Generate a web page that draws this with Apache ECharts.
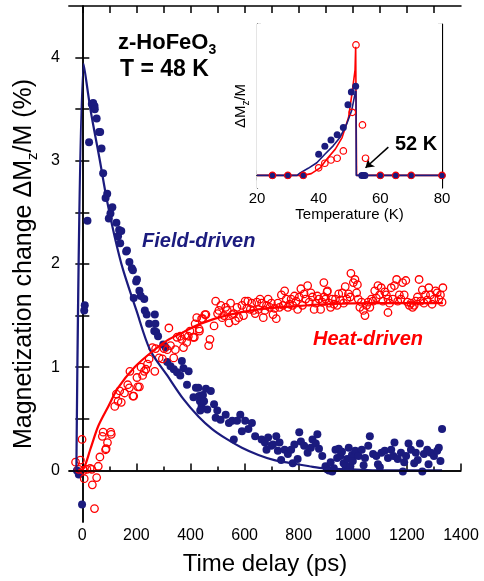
<!DOCTYPE html>
<html>
<head>
<meta charset="utf-8">
<script src="https://cdn.jsdelivr.net/npm/echarts@6/dist/echarts.min.js"></script>
<style>html,body{margin:0;padding:0;background:#fff;}#c{width:484px;height:581px;}</style>
</head>
<body>
<div id="c"></div>
<script>
// ---------- main plot data (time delay in ps, ΔMz/M in %) ----------
const fieldT = [-20,-13,-1,7,9,19,25,35,40,45,46,53,62,66,71,77,86,92,98,104,111,126,132,136,144,140,162,165,174,183,187,199,202,211,216,190,229,231,238,247,268,270,266,273,280,299,308,314,326,338,350,368,374,362,393,387,411,420,429,432,435,441,446,450,457,462,475,487,436,493,499,511,530,542,554,560,572,584,590,602,614,627,639,663,675,681,687,699,705,717,723,729,735,748,760,772,778,784,796,802,808,820,833,845,851,863,869,875,887,899,905,912,918,924,930,936,942,948,954,960,966,972,979,985,991,997,1000,1009,1021,1033,1040,1045,1057,1063,1075,1087,1093,1100,1106,1118,1130,1142,1150,1154,1166,1178,1185,1190,1197,1206,1215,1227,1233,1240,1248,1257,1263,1275,1280,1288,1300,1312,1318,1324,1330];
const fieldV = [0.00,-0.04,-0.33,1.55,1.60,2.42,3.18,3.55,3.56,3.53,3.50,3.41,3.28,3.28,3.12,2.88,2.64,2.68,2.44,2.49,2.55,2.40,2.27,2.33,2.32,2.20,2.12,2.13,2.02,1.96,1.94,1.83,1.85,1.74,1.69,1.67,1.66,1.55,1.51,1.42,1.51,1.42,1.35,1.34,1.30,1.22,1.19,1.05,1.01,0.98,0.95,1.06,0.99,0.92,0.96,0.83,0.71,0.80,0.80,0.72,0.67,0.62,0.73,0.67,0.79,0.59,0.77,0.64,0.58,0.51,0.58,0.49,0.54,0.46,0.48,0.30,0.48,0.54,0.38,0.48,0.40,0.46,0.33,0.30,0.27,0.20,0.32,0.24,0.25,0.33,0.19,0.27,0.10,0.20,0.16,0.20,0.07,0.25,0.11,0.37,0.28,0.24,0.17,0.22,0.30,0.26,0.35,0.21,0.14,0.04,0.01,0.00,0.08,-0.01,0.02,0.20,0.12,0.21,0.14,0.18,0.07,0.05,0.11,0.22,0.04,0.15,0.09,0.19,0.14,0.20,0.05,0.12,0.24,0.33,0.16,0.14,0.06,0.03,0.17,0.19,0.12,0.20,0.14,0.27,0.11,0.17,-0.01,0.08,0.14,0.26,0.20,0.07,0.17,0.10,0.26,-0.01,0.16,0.20,0.06,0.17,0.14,0.19,0.22,0.09,0.40];

const heatT = [-25,-13,-7,-1,5,7,17,29,35,37,45,53,59,65,74,77,86,88,93,105,107,120,126,132,138,144,156,168,174,176,187,190,202,205,211,217,223,229,235,241,247,259,268,271,284,296,302,314,320,326,338,344,350,362,368,374,380,386,392,398,410,414,417,423,432,433,441,445,453,457,467,472,487,493,500,505,512,517,524,530,536,542,548,554,560,566,572,578,590,596,602,608,612,621,626,633,639,645,651,657,663,669,675,681,687,693,699,705,711,717,723,729,736,742,748,754,760,766,772,778,784,790,796,802,808,814,820,826,833,839,845,851,857,863,869,875,881,887,893,893,899,905,906,912,918,924,930,936,942,948,954,961,966,972,978,984,990,993,1002,1008,1014,1017,1020,1026,1032,1039,1045,1051,1057,1063,1069,1075,1081,1087,1093,1099,1105,1111,1118,1124,1130,1130,1136,1142,1148,1154,1162,1166,1172,1178,1184,1190,1196,1202,1209,1215,1221,1227,1233,1239,1245,1251,1257,1263,1269,1275,1281,1287,1293,1300,1306,1312,1318,1324,1330,1333];
const heatV = [0.08,0.01,0.10,0.30,0.00,-0.08,0.01,0.02,0.01,-0.14,-0.37,-0.07,0.04,0.13,0.33,0.37,0.20,0.21,0.27,0.37,0.35,0.62,0.74,0.67,0.77,0.66,0.75,0.83,0.80,0.96,0.72,0.72,0.90,0.81,0.81,1.00,0.92,0.96,0.98,1.03,1.08,1.19,0.96,1.18,1.09,1.08,1.18,1.17,1.38,1.21,1.09,1.17,1.29,1.30,1.27,1.19,1.31,1.24,1.30,1.35,1.29,1.29,1.42,1.48,1.37,1.35,1.47,1.47,1.51,1.51,1.21,1.27,1.40,1.64,1.52,1.55,1.60,1.48,1.50,1.58,1.55,1.43,1.62,1.51,1.52,1.45,1.58,1.48,1.60,1.50,1.64,1.57,1.64,1.56,1.62,1.55,1.52,1.63,1.56,1.66,1.62,1.48,1.55,1.60,1.66,1.58,1.62,1.51,1.57,1.47,1.62,1.58,1.70,1.60,1.74,1.66,1.58,1.61,1.66,1.60,1.69,1.64,1.56,1.68,1.76,1.60,1.71,1.66,1.79,1.63,1.72,1.68,1.56,1.62,1.69,1.66,1.56,1.63,1.82,1.68,1.66,1.73,1.74,1.62,1.58,1.66,1.61,1.66,1.60,1.71,1.65,1.72,1.62,1.78,1.66,1.71,1.68,1.91,1.82,1.85,1.72,1.80,1.66,1.58,1.63,1.55,1.50,1.60,1.63,1.58,1.66,1.64,1.74,1.67,1.79,1.70,1.77,1.64,1.73,1.70,1.66,1.53,1.62,1.77,1.66,1.79,1.85,1.64,1.70,1.66,1.82,1.70,1.84,1.63,1.60,1.62,1.58,1.60,1.64,1.68,1.85,1.64,1.75,1.62,1.70,1.65,1.77,1.70,1.61,1.66,1.74,1.72,1.66,1.70,1.63,1.77];

const fieldFitT = [-22,5,30,65,90,120,150,200,250,314,374,430,480,530,590,651,710,772,840,893,1000,1100,1330];
const fieldFitV = [0,3.94,3.50,3.00,2.63,2.26,1.95,1.55,1.17,0.92,0.69,0.52,0.40,0.31,0.22,0.15,0.10,0.07,0.04,0.02,0.01,0.00,0.00];
const heatFitT = [-15,5,29,59,96,132,193,253,314,374,435,530,650,780,893,1100,1333];
const heatFitV = [0,0.02,0.20,0.43,0.62,0.80,1.00,1.14,1.26,1.34,1.42,1.50,1.56,1.59,1.61,1.62,1.62];

const xMajorTicks = [0,200,400,600,800,1000,1200,1400];
const xMinorTicks = [100,300,500,700,900,1100,1300];
const xTopTicks = [0,100,200,300,400,500,600,700,800,900,1000,1100,1200,1300];
const yLabels = [0,1,2,3,4];
const yTicks = [0,0.5,1,1.5,2,2.5,3,3.5,4];

// ---------- inset data (temperature in K, ΔMz/M arb.) ----------
const insetFieldT = [25,30,35,40,42,44,46,48,49.5,50.6,52,54,54.5,55,60,65,70,80];
const insetFieldV = [0,0,0,0.84,1.15,1.40,1.61,1.90,2.80,3.30,3.53,0,0,0,0,0,0,0];
const insetHeatT = [25,30,35,40,42,44,46,48,50.9,52.1,54.2,55.2,60,65,70,80];
const insetHeatV = [0,0,0,0.30,0.48,0.61,0.68,0.97,2.50,5.17,2.00,0.68,0,0,0,0];
const insetFieldFitT = [20,33,34,36.6,39.4,42,44.7,46.9,49.1,50.7,51.8,52.1,52.2,80];
const insetFieldFitV = [0,0,0.10,0.28,0.50,0.84,1.17,1.50,2.04,2.57,3.24,3.35,0,0];
const insetHeatFitT = [20,35,37.6,40.6,42.6,45.4,47.6,49.7,50.8,51.8,52,52.3,80];
const insetHeatFitV = [0,0,0.07,0.31,0.64,1.04,1.50,2.30,3.24,4.17,5.10,0,0];
const insetYTicks = [0,1,2,3,4,5,6];

const zip = (a, b) => a.map((v, i) => [v, b[i]]);
const NAVY = '#1b1b7e', RED = '#ff0000';
const FONT = '"Liberation Sans", Arial, sans-serif';
const plain = v => String(v);

const chart = echarts.init(document.getElementById('c'), null, {renderer: 'canvas'});
const lineBlack = {show: true, lineStyle: {color: '#000', width: 1.5}};
const hiddenLabel = {show: false};

chart.setOption({
  animation: false,
  backgroundColor: '#fff',
  textStyle: {fontFamily: FONT},
  grid: [
    {left: 64, top: 6, width: 397, height: 517, containLabel: false},
    {left: 257, top: 24, width: 185, height: 164, show: true, backgroundColor: '#fff', borderWidth: 0, z: 5}
  ],
  xAxis: [
    {gridIndex: 0, type: 'value', position: 'bottom', min: -50, max: 1400,
     axisLine: lineBlack, splitLine: {show: false},
     axisTick: {inside: true, length: 7, customValues: xMajorTicks, lineStyle: {color: '#000', width: 1.5}},
     axisLabel: {customValues: xMajorTicks, formatter: plain, fontSize: 16, color: '#000', margin: 6, fontFamily: FONT},
     name: 'Time delay (ps)', nameLocation: 'middle', nameGap: 30,
     nameTextStyle: {fontSize: 24, color: '#000', fontFamily: FONT}},
    {gridIndex: 0, type: 'value', position: 'bottom', min: -50, max: 1400,
     axisLine: {show: false}, splitLine: {show: false},
     axisTick: {inside: true, length: 4, customValues: xMinorTicks, lineStyle: {color: '#000', width: 1.5}},
     axisLabel: hiddenLabel},
    {gridIndex: 0, type: 'value', position: 'top', min: -50, max: 1400,
     axisLine: lineBlack, splitLine: {show: false},
     axisTick: {inside: true, length: 7, customValues: xTopTicks, lineStyle: {color: '#000', width: 1.5}},
     axisLabel: hiddenLabel},
    {gridIndex: 1, type: 'value', position: 'bottom', min: 20, max: 80, interval: 20,
     axisLine: {show: true, lineStyle: {color: '#000', width: 1.2}}, splitLine: {show: false},
     axisTick: {inside: true, length: 5, lineStyle: {color: '#000', width: 1.2}},
     axisLabel: {fontSize: 15, color: '#000', margin: 3, fontFamily: FONT, formatter: plain},
     name: 'Temperature (K)', nameLocation: 'middle', nameGap: 19,
     nameTextStyle: {fontSize: 15, color: '#000', fontFamily: FONT}},
    {gridIndex: 1, type: 'value', position: 'top', min: 20, max: 80, interval: 20,
     axisLine: {show: true, lineStyle: {color: '#000', width: 1.2}}, splitLine: {show: false},
     axisTick: {inside: true, length: 5, lineStyle: {color: '#000', width: 1.2}},
     axisLabel: hiddenLabel}
  ],
  yAxis: [
    {gridIndex: 0, type: 'value', position: 'left', min: -0.5, max: 4.5,
     axisLine: lineBlack, splitLine: {show: false},
     axisTick: {inside: true, length: 7, customValues: yTicks, lineStyle: {color: '#000', width: 1.5}},
     axisLabel: {customValues: yLabels, formatter: plain, fontSize: 16, color: '#000', margin: 9, fontFamily: FONT},
     name: 'Magnetization change ΔM{s|z}/M (%)', nameLocation: 'middle', nameGap: 28,
     nameTextStyle: {fontSize: 25, color: '#000', fontFamily: FONT, lineHeight: 32,
       rich: {s: {fontSize: 15, lineHeight: 16, verticalAlign: 'bottom', fontFamily: FONT, color: '#000'}}}},
    {gridIndex: 0, type: 'value', position: 'right', min: -0.5, max: 4.5,
     axisLine: lineBlack, splitLine: {show: false},
     axisTick: {inside: true, length: 7, customValues: yTicks, lineStyle: {color: '#000', width: 1.5}},
     axisLabel: hiddenLabel},
    {gridIndex: 1, type: 'value', position: 'left', min: -0.5, max: 6,
     axisLine: {show: true, lineStyle: {color: '#000', width: 1.2}}, splitLine: {show: false},
     axisTick: {inside: true, length: 4, customValues: insetYTicks, lineStyle: {color: '#000', width: 1.2}},
     axisLabel: hiddenLabel,
     name: 'ΔM{s|z}/M', nameLocation: 'middle', nameGap: 6,
     nameTextStyle: {fontSize: 15, color: '#000', fontFamily: FONT, lineHeight: 20,
       rich: {s: {fontSize: 10, lineHeight: 10, verticalAlign: 'bottom', fontFamily: FONT, color: '#000'}}}},
    {gridIndex: 1, type: 'value', position: 'right', min: -0.5, max: 6,
     axisLine: {show: true, lineStyle: {color: '#000', width: 1.2}}, splitLine: {show: false},
     axisTick: {inside: true, length: 4, customValues: insetYTicks, lineStyle: {color: '#000', width: 1.2}},
     axisLabel: hiddenLabel}
  ],
  series: [
    {name: 'Field-driven data', type: 'scatter', xAxisIndex: 0, yAxisIndex: 0,
     data: zip(fieldT, fieldV), symbol: 'circle', symbolSize: 8,
     itemStyle: {color: NAVY, opacity: 1}, z: 2},
    {name: 'Heat-driven data', type: 'scatter', xAxisIndex: 0, yAxisIndex: 0,
     data: zip(heatT, heatV), symbol: 'circle', symbolSize: 7.5,
     itemStyle: {color: 'rgba(255,255,255,0)', borderColor: RED, borderWidth: 1.3, opacity: 1}, z: 3},
    {name: 'Field-driven fit', type: 'line', xAxisIndex: 0, yAxisIndex: 0,
     data: zip(fieldFitT, fieldFitV), showSymbol: false, symbol: 'none', smooth: 0.3,
     lineStyle: {color: NAVY, width: 2.2}, z: 4,
     markLine: {silent: true, symbol: ['none', 'none'], label: {show: false},
       lineStyle: {color: '#000', width: 1.5, type: 'solid'}, data: [{yAxis: 0}]}},
    {name: 'Heat-driven fit', type: 'line', xAxisIndex: 0, yAxisIndex: 0,
     data: zip(heatFitT, heatFitV), showSymbol: false, symbol: 'none', smooth: 0.3,
     lineStyle: {color: RED, width: 2.2}, z: 4},
    // inset
    {name: 'Inset heat fit', type: 'line', xAxisIndex: 3, yAxisIndex: 2,
     data: zip(insetHeatFitT, insetHeatFitV), showSymbol: false, symbol: 'none',
     lineStyle: {color: RED, width: 1.6}, z: 10},
    {name: 'Inset field fit', type: 'line', xAxisIndex: 3, yAxisIndex: 2,
     data: zip(insetFieldFitT, insetFieldFitV), showSymbol: false, symbol: 'none',
     lineStyle: {color: NAVY, width: 1.6}, z: 11,
     markLine: {silent: true, symbol: ['none', 'arrow'], symbolSize: 8, label: {show: false},
       lineStyle: {color: '#000', width: 1.5, type: 'solid'},
       data: [[{coord: [62.6, 1.12]}, {coord: [55.2, 0.3]}]]}},
    {name: 'Inset field data', type: 'scatter', xAxisIndex: 3, yAxisIndex: 2,
     data: zip(insetFieldT, insetFieldV), symbol: 'circle', symbolSize: 7,
     itemStyle: {color: NAVY, opacity: 1}, z: 12},
    {name: 'Inset heat data', type: 'scatter', xAxisIndex: 3, yAxisIndex: 2,
     data: zip(insetHeatT, insetHeatV), symbol: 'circle', symbolSize: 6.5,
     itemStyle: {color: 'rgba(255,255,255,0)', borderColor: RED, borderWidth: 1.2, opacity: 1}, z: 13}
  ],
  graphic: [
    {type: 'text', left: 118, top: 29, z: 20,
     style: {text: 'z-HoFeO{s|3}', fill: '#000', font: 'bold 22px ' + FONT, lineHeight: 28,
       rich: {s: {fontSize: 14, fontWeight: 'bold', lineHeight: 14, verticalAlign: 'bottom', fill: '#000', fontFamily: FONT}}}},
    {type: 'text', left: 120, top: 58, z: 20,
     style: {text: 'T = 48 K', fill: '#000', font: 'bold 23px ' + FONT}},
    {type: 'text', left: 142, top: 231, z: 20,
     style: {text: 'Field-driven', fill: NAVY, font: 'italic bold 20px ' + FONT}},
    {type: 'text', left: 313, top: 329, z: 20,
     style: {text: 'Heat-driven', fill: RED, font: 'italic bold 20px ' + FONT}},
    {type: 'text', left: 395, top: 134, z: 20,
     style: {text: '52 K', fill: '#000', font: 'bold 20px ' + FONT}}
  ]
});
</script>
</body>
</html>
